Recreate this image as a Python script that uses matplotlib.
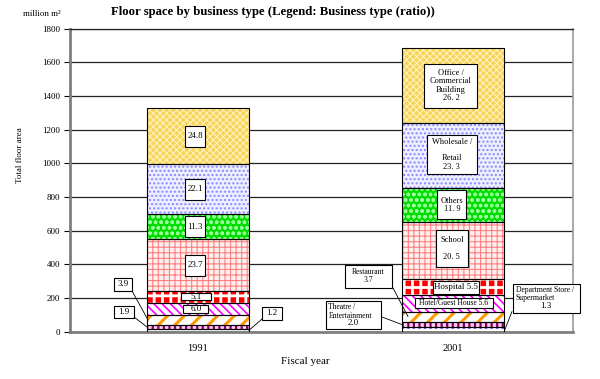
import matplotlib
matplotlib.use('Agg')
import matplotlib.pyplot as plt
import matplotlib.transforms as mtransforms
from matplotlib.patches import Rectangle
import numpy as np

plt.rcParams['font.family'] = ['Liberation Serif', 'DejaVu Serif']

# data (million m2), bottom to top
years = ['1991', '2001']
types = ['Department Store / Supermarket', 'Theatre / Entertainment', 'Restaurant',
         'Hotel/Guest House', 'Hospital', 'School', 'Others', 'Wholesale / Retail',
         'Office / Commercial Building']
area_1991 = [16, 24, 59, 73, 70, 307, 148, 299, 331]
area_2001 = [26, 33, 60, 99, 93, 339, 205, 386, 442]
ratio_1991 = ['1.2', '1.9', '3.9', '6.0', '5.1', '23.7', '11.3', '22.1', '24.8']
ratio_2001 = ['1.3', '2.0', '3.7', '5.6', '5.5', '20. 5', '11. 9', '23. 3', '26. 2']
yticks = np.arange(0, 1801, 200)

# face colour, hatch colour, hatch, hatch linewidth
styles = [
    ('white', '#5555ff', '...', 1.0),
    ('#ffd0f0', '#800060', '|||', 1.6),
    ('white', '#ff9900', '//', 2.2),
    ('white', '#ff00ff', '\\\\\\\\', 1.2),
    ('#ff0000', 'white', '++', 2.0),
    ('#fff0f0', '#ff8080', '+++', 0.8),
    ('#00dd00', '#99ff99', 'ooo', 1.0),
    ('#eeeeff', '#8888ff', '....', 1.0),
    ('#f8d458', '#fff4c8', 'xxxxx', 0.7),
]

W, H, DPI = 600, 379, 100
fig = plt.figure(figsize=(W / DPI, H / DPI), dpi=DPI)
ax = fig.add_axes([70 / W, 1 - 331.7 / H, 503 / W, 303.1 / H])

x = np.arange(len(years))
width = 0.4
data = np.array([area_1991, area_2001])
bottoms = np.zeros(len(years))
for i, (fc, hc, hatch, hlw) in enumerate(styles):
    with plt.rc_context({'hatch.linewidth': hlw}):
        bars = ax.bar(x, data[:, i], width, bottom=bottoms, color=fc, edgecolor=hc,
                      hatch=hatch, linewidth=0, zorder=2)
    for b in bars:
        if hasattr(b, 'set_hatch_linewidth'):
            b.set_hatch_linewidth(hlw)
    ax.bar(x, data[:, i], width, bottom=bottoms, fill=False, edgecolor='black',
           linewidth=0.8, zorder=3)
    bottoms = bottoms + data[:, i]

ax.set_xlim(-0.502, 1.471)
ax.set_ylim(0, 1800)
ax.set_yticks(yticks)
ax.set_xticks(x)
ax.set_xticklabels(years, fontsize=7.5)
ax.tick_params(axis='x', length=0, pad=9)
ax.tick_params(axis='y', direction='out', length=4, width=0.8, labelsize=6.5, pad=3)
ax.yaxis.grid(True, color='#222222', linewidth=0.9)
ax.set_axisbelow(True)
for side in ['left', 'bottom']:
    ax.spines[side].set_color('#7f7f7f')
    ax.spines[side].set_linewidth(2)
ax.spines['right'].set_color('#9a9a9a')
ax.spines['right'].set_linewidth(1.2)
ax.spines['top'].set_color('#222222')
ax.spines['top'].set_linewidth(0.9)

ax.set_xlabel('Fiscal year', fontsize=8)
ax.xaxis.set_label_coords(0.467, -0.085)
fig.text(20 / W, 1 - 155 / H, 'Total floor area', rotation=90, fontsize=6.5,
         ha='center', va='center')
fig.text(42 / W, 1 - 14 / H, 'million m²', fontsize=6.5, ha='center', va='center')
fig.text(273 / W, 1 - 12 / H, 'Floor space by business type (Legend: Business type (ratio))',
         fontsize=9.2, fontweight='bold', ha='center', va='center')

cum = np.cumsum(data, axis=1)
mids = cum - data / 2


def inbox(xc, yc, w, h, lines, fs, dx=0, dy=0):
    # white box of w x h pixels centred on a data point
    tr = fig.dpi_scale_trans + mtransforms.ScaledTranslation(xc, yc, ax.transData)
    ax.add_patch(Rectangle(((dx - w / 2) / DPI, (-dy - h / 2) / DPI), w / DPI, h / DPI,
                           transform=tr, facecolor='white', edgecolor='black',
                           linewidth=0.8, zorder=4, clip_on=False))
    ax.annotate(lines, xy=(xc, yc), xytext=(dx * 72 / DPI, -dy * 72 / DPI),
                textcoords='offset points', ha='center', va='center', fontsize=fs,
                zorder=5, linespacing=1.05)


def callout(cx, cy, w, h, lines, fs, target, start, num=None, left=False):
    # box in figure pixels (from top-left) with a leader line to a data point
    fig.patches.append(Rectangle(((cx - w / 2) / W, 1 - (cy + h / 2) / H), w / W, h / H,
                                 transform=fig.transFigure, facecolor='white',
                                 edgecolor='black', linewidth=0.8, zorder=4))
    if left:
        fig.text((cx - w / 2 + 3) / W, 1 - (cy - h / 2 + 2) / H, lines, fontsize=fs,
                 ha='left', va='top', linespacing=1.1, zorder=5)
        fig.text(cx / W, 1 - (cy + h / 2 - 2) / H, num, fontsize=fs + 1,
                 ha='center', va='bottom', zorder=5)
    else:
        fig.text(cx / W, 1 - cy / H, lines, fontsize=fs, ha='center', va='center',
                 linespacing=1.1, zorder=5)
    ax.annotate('', xy=target, xycoords='data',
                xytext=(start[0] / W, 1 - start[1] / H), textcoords='figure fraction',
                arrowprops=dict(arrowstyle='-', lw=0.6, color='black',
                                shrinkA=0, shrinkB=0), annotation_clip=False)


# 1991 labels
x0 = x[0]
inbox(x0, mids[0][8], 20, 21, ratio_1991[8], 6.5, dx=-3)
inbox(x0, mids[0][7], 20, 21, ratio_1991[7], 6.5, dx=-3)
inbox(x0, mids[0][6], 20, 21, ratio_1991[6], 6.5, dx=-3)
inbox(x0, mids[0][5], 20, 21, ratio_1991[5], 6.5, dx=-3)
inbox(x0, mids[0][4], 30, 7, ratio_1991[4], 6.5, dx=-2)
inbox(x0, mids[0][3], 25, 8, ratio_1991[3], 6.5, dx=-2)
left0 = x0 - width / 2
right0 = x0 + width / 2
callout(123, 284, 18, 13, ratio_1991[2], 6.5, (left0 + 0.004, mids[0][2]), (131, 289))
callout(124, 312, 20, 12, ratio_1991[1], 6.5, (left0, mids[0][1]), (134, 317))
callout(272, 313, 20, 13, ratio_1991[0], 6.5, (right0, mids[0][0]), (262, 319))

# 2001 labels
x1 = x[1]
inbox(x1, mids[1][8], 53, 44, 'Office /\nCommercial\nBuilding\n' + ratio_2001[8], 6, dx=-2)
inbox(x1, mids[1][7], 50, 39, 'Wholesale /\n\nRetail\n' + ratio_2001[7], 6, dx=-1, dy=-1)
inbox(x1, mids[1][6], 29, 29, 'Others\n' + ratio_2001[6], 6, dx=-1)
inbox(x1, mids[1][5], 32, 37, 'School\n\n' + ratio_2001[5], 6, dx=-1, dy=-2)
inbox(x1, mids[1][4], 46, 13, 'Hospital ' + ratio_2001[4], 6.5, dx=3)
inbox(x1, mids[1][3], 78, 10, 'Hotel/Guest House ' + ratio_2001[3], 5.5, dx=1)
left1 = x1 - width / 2
right1 = x1 + width / 2
callout(368.5, 276, 47, 23, 'Restaurant\n' + ratio_2001[2], 5.5,
        (left1 + 0.024, mids[1][2]), (392, 286))
callout(353, 315, 55, 28, 'Theatre /\nEntertainment', 5.5,
        (left1, mids[1][1]), (378, 315.5), num=ratio_2001[1], left=True)
callout(546, 298, 67, 29, 'Department Store /\nSupermarket', 5.5,
        (right1 + 0.004, mids[1][0]), (512, 311.5), num=ratio_2001[0], left=True)

fig.savefig('out.png', dpi=DPI)
